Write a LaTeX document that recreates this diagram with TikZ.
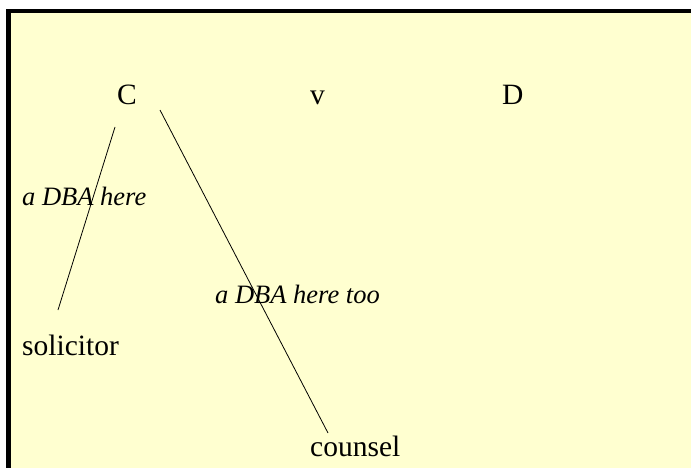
\documentclass[tikz,border=0pt]{standalone}
\usepackage{fontspec}
\setmainfont{Liberation Serif}
\definecolor{bgyellow}{HTML}{FFFFD0}
\tikzset{
  lbl/.style={inner sep=0pt, anchor=base west, font=\fontsize{29.5}{32}\selectfont},
  note/.style={inner sep=0pt, anchor=base west, font=\fontsize{26.5}{30}\selectfont\itshape},
  link/.style={draw=black, line width=0.8pt}
}
\begin{document}
\begin{tikzpicture}[x=1pt,y=-1pt]
\useasboundingbox (0,0) rectangle (691,468);
\fill[white] (0,0) rectangle (691,468);
\fill[bgyellow] (6,9) rectangle (691,468);
\fill[black] (6,9) rectangle (691,13);
\fill[black] (6,9) rectangle (11,468);

\node[lbl] (c) at (117,105) {C};
\node[lbl] (v) at (310,105) {v};
\node[lbl] (d) at (502,105) {D};
\node[note] (n1) at (22,205) {a DBA here};
\node[note] (n2) at (215,303) {a DBA here too};
\node[lbl] (sol) at (22,355) {solicitor};
\node[lbl] (cou) at (310,456) {counsel};

\coordinate (l1a) at (115,127);
\coordinate (l1b) at (58,310);
\coordinate (l2a) at (160,110);
\coordinate (l2b) at (328,433);
\draw[link] (l1a) -- (l1b);
\draw[link] (l2a) -- (l2b);
\end{tikzpicture}
\end{document}
